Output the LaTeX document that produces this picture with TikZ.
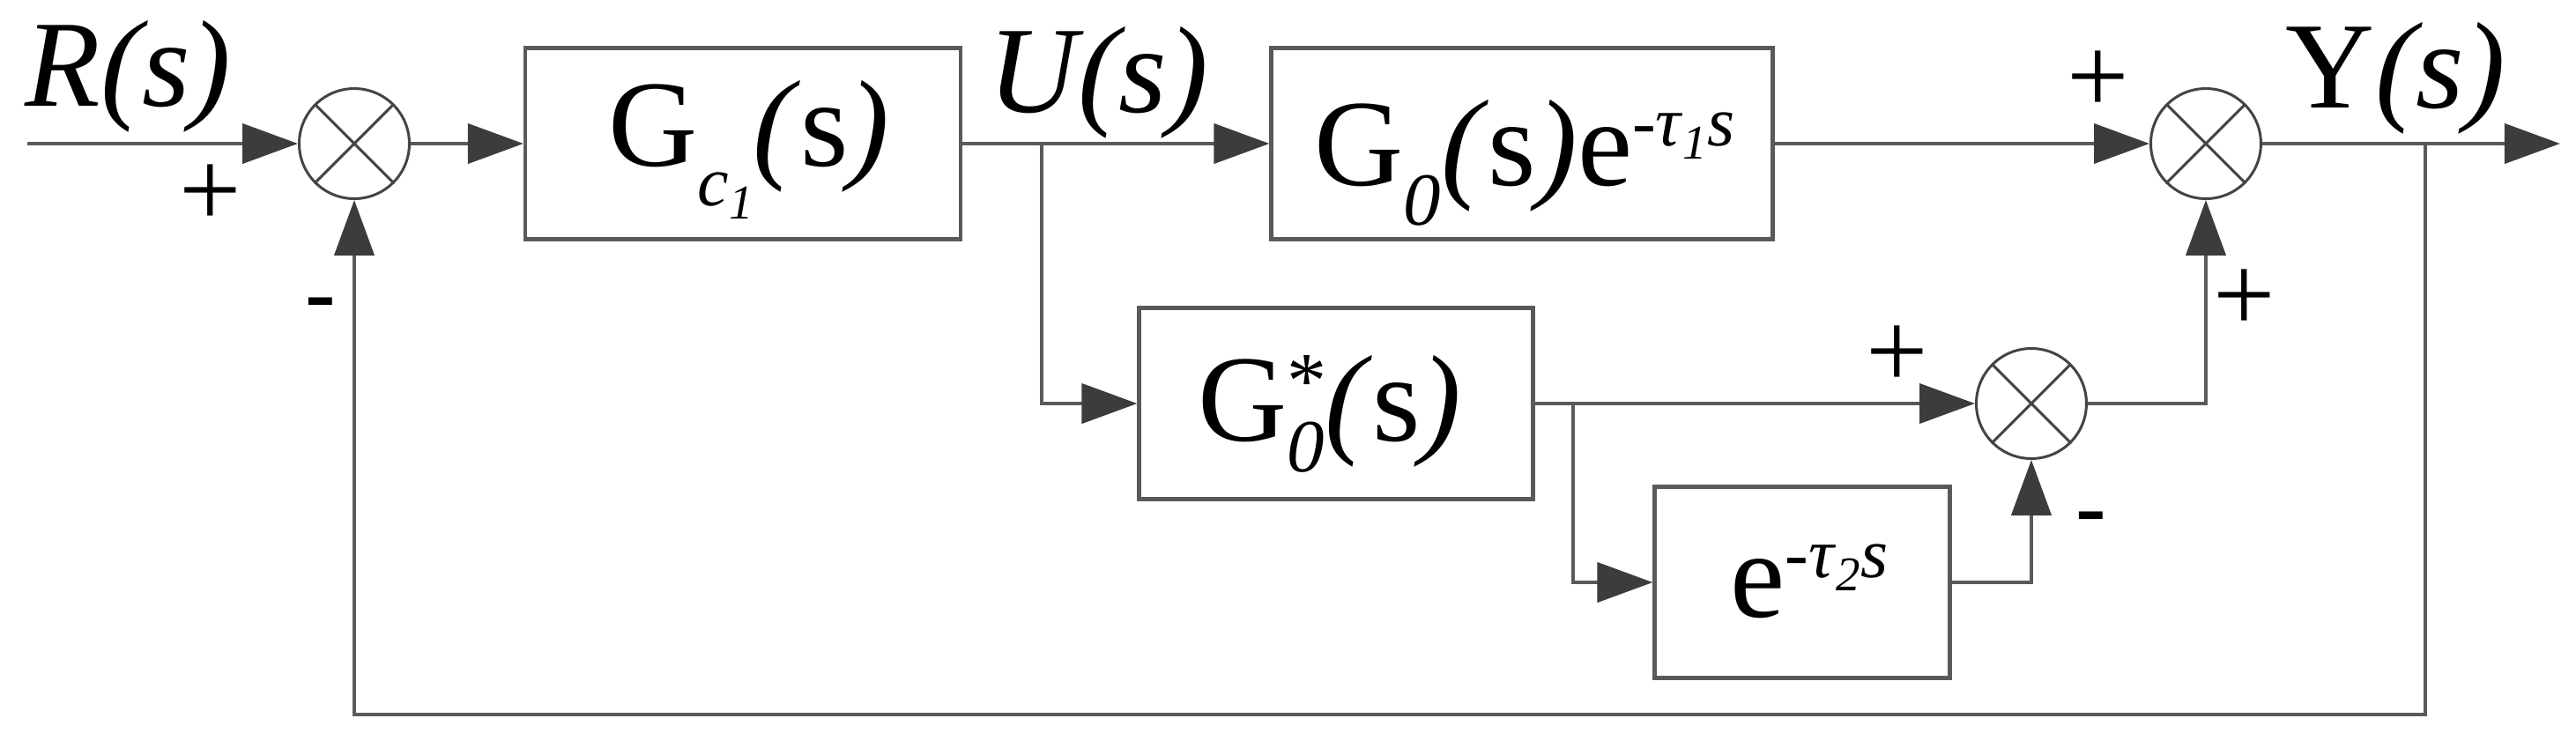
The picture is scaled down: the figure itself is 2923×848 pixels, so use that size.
\documentclass[tikz,border=0pt]{standalone}
\usepackage{fontspec}
\setmainfont{Liberation Serif}
\newfontfamily\signfont{Liberation Sans}
\usetikzlibrary{arrows.meta}
\definecolor{lgray}{HTML}{5A5A5A}
\definecolor{agray}{HTML}{3C3C3C}
\definecolor{cgray}{HTML}{444444}
\newcommand\lowr[3]{\raisebox{#1}{\fontsize{#2}{#2}\selectfont #3}}
\newcommand\bs{\textit{(}s\textit{)}}
\begin{document}
\begin{tikzpicture}[x=0.1pt,y=-0.1pt,
  line/.style={draw=lgray, line width=0.42pt},
  arr/.style={line, -{Triangle[length=6.3pt,width=4.5pt,fill=agray,color=agray]}},
  blk/.style={draw=lgray, line width=0.42pt, rectangle, inner sep=0pt, minimum height=21.7pt},
  sumn/.style={circle, draw=cgray, line width=0.3pt, minimum size=12.5pt, inner sep=0pt},
  xline/.style={draw=cgray, line width=0.3pt},
  lab/.style={font=\fontsize{14}{14}\selectfont, inner sep=0pt},
  plus/.style={font=\fontsize{12.5}{12.5}\selectfont, inner sep=0pt},
  minus/.style={font=\signfont\fontsize{11}{11}\selectfont, inner sep=0pt}]
\useasboundingbox (0,0) rectangle (2923,848);

% summing junctions
\node[sumn] (c1) at (402,163) {};
\node[sumn] (c2) at (2503,163) {};
\node[sumn] (c3) at (2305,458) {};
\foreach \n in {c1,c2,c3}
  \draw[xline] (\n.north west) -- (\n.south east) (\n.north east) -- (\n.south west);

% blocks
\node[blk, minimum width=49.4pt] (Gc) at (843,163) {};
\node[blk, minimum width=56.9pt] (G0) at (1727,163) {};
\node[blk, minimum width=44.7pt] (G0s) at (1516,458) {};
\node[blk, minimum width=33.5pt] (eb) at (2045,661) {};

% block texts
\node[lab, anchor=base] (tGc) at (850,188) {G\lowr{-4.5pt}{8}{\textit{c}\lowr{-1.5pt}{5.5}{\textit{1}}}\bs};
\node[lab, anchor=base] (tG0) at (1730,210) {G\lowr{-4.5pt}{8.5}{\textit{0}}\bs e\lowr{4.5pt}{8}{-\textit{τ}\lowr{-1.5pt}{5.5}{\textit{1}}\textit{s}}};
\node[lab, anchor=base] (tG0s) at (1509,500) {G\makebox[0pt][l]{\lowr{3.8pt}{9}{*}}\lowr{-3.5pt}{8.5}{\textit{0}}\bs};
\node[lab, anchor=base] (teb) at (2053,700) {e\lowr{4.5pt}{8}{-\textit{τ}\lowr{-1.5pt}{5.5}{\textit{2}}\textit{s}}};

% signal labels
\node[lab, anchor=base west] (tR) at (27,120) {\textit{R(s)}};
\node[lab, anchor=base west] (tU) at (1120,127) {\textit{U(s)}};
\node[lab, anchor=base west] (tY) at (2592,122) {Y\textit{(s)}};

% signs
\node[plus] (p1) at (239,222) {+};
\node[minus] (m1) at (364,355) {-};
\node[plus] (p2) at (2381,93) {+};
\node[plus] (p3) at (2547,341) {+};
\node[plus] (p4) at (2153,405) {+};
\node[minus] (m2) at (2373,598) {-};

% coordinates
\coordinate (in) at (31,163);
\coordinate (out) at (2905,163);
\coordinate (b1) at (1182,163);
\coordinate (b2) at (1785,458);
\coordinate (b3) at (2752,163);
\coordinate (fb) at (2752,811);

% connectors
\draw[arr] (in) -- (c1);
\draw[arr] (c1) -- (Gc);
\draw[arr] (Gc) -- (G0);
\draw[arr] (b1) |- (G0s);
\draw[arr] (G0) -- (c2);
\draw[arr] (c2) -- (out);
\draw[arr] (G0s) -- (c3);
\draw[arr] (b2) |- (eb);
\draw[arr] (eb) -| (c3);
\draw[arr] (c3) -| (c2);
\draw[arr] (b3) -- (fb) -| (c1);
\end{tikzpicture}
\end{document}
